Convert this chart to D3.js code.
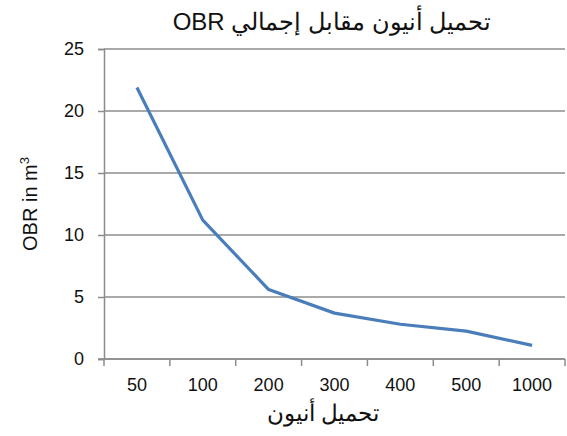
<!DOCTYPE html>
<html>
<head>
<meta charset="utf-8">
<script src="https://cdn.jsdelivr.net/npm/d3@7"></script>
<style>
  body { margin: 0; background: #fff; }
  text { font-family: "Liberation Sans", Arial, sans-serif; }
</style>
</head>
<body>
<div id="chart"></div>
<script>
const loads = ["50", "100", "200", "300", "400", "500", "1000"]
const obr = [21.9, 11.2, 5.6, 3.7, 2.8, 2.25, 1.1]
const yTicks = [0, 5, 10, 15, 20, 25]

const width = 567
const height = 436
const margin = {top: 49, right: 2, bottom: 77, left: 104}

const svg = d3.select('#chart')
  .append('svg')
  .attr('width', width)
  .attr('height', height)

const x = d3.scaleBand()
  .domain(loads)
  .range([margin.left, width - margin.right])

const y = d3.scaleLinear()
  .domain([0, 25])
  .range([height - margin.bottom, margin.top])

// gridlines
svg.append('g')
  .selectAll('line')
  .data(yTicks)
  .enter()
  .append('line')
  .attr('x1', margin.left)
  .attr('x2', width - margin.right)
  .attr('y1', d => y(d))
  .attr('y2', d => y(d))
  .style('stroke', '#8c8c8c')
  .style('stroke-width', 1.5)

// y axis
const yAxis = svg.append('g')
  .attr('transform', `translate(${margin.left},0)`)
  .call(d3.axisLeft(y).tickValues(yTicks).tickSize(6).tickPadding(14))
yAxis.select('.domain').style('stroke', '#8c8c8c').style('stroke-width', 1.5)
yAxis.selectAll('.tick line').style('stroke', '#8c8c8c').style('stroke-width', 1.5)
yAxis.selectAll('.tick text')
  .style('font-size', '18px')
  .style('fill', '#111')

// x axis: ticks on band edges
const xAxisG = svg.append('g')
  .attr('transform', `translate(0,${y(0)})`)
xAxisG.append('line')
  .attr('x1', margin.left - 6)
  .attr('x2', width - margin.right)
  .style('stroke', '#8c8c8c')
  .style('stroke-width', 1.5)
const edges = loads.map(d => x(d)).concat([x(loads[loads.length - 1]) + x.bandwidth()])
xAxisG.selectAll('.edge')
  .data(edges)
  .enter()
  .append('line')
  .attr('x1', d => d)
  .attr('x2', d => d)
  .attr('y1', 0)
  .attr('y2', 7)
  .style('stroke', '#8c8c8c')
  .style('stroke-width', 1.5)
xAxisG.selectAll('text')
  .data(loads)
  .enter()
  .append('text')
  .attr('x', d => x(d) + x.bandwidth() / 2)
  .attr('y', 32)
  .attr('text-anchor', 'middle')
  .style('font-size', '18px')
  .style('fill', '#111')
  .text(d => d)

// line
const line = d3.line()
  .x((d, i) => x(loads[i]) + x.bandwidth() / 2)
  .y(d => y(d))

svg.append('path')
  .datum(obr)
  .attr('d', line)
  .style('fill', 'none')
  .style('stroke', '#4a7ebb')
  .style('stroke-width', 3.2)
  .style('stroke-linejoin', 'round')

// title
svg.append('text')
  .attr('x', 332)
  .attr('y', 30)
  .attr('text-anchor', 'middle')
  .attr('direction', 'rtl')
  .style('font-size', '24px')
  .style('fill', '#111')
  .text('تحميل أنيون مقابل إجمالي OBR')

// x label
svg.append('text')
  .attr('x', 323)
  .attr('y', 421)
  .attr('text-anchor', 'middle')
  .attr('direction', 'rtl')
  .style('font-size', '23px')
  .style('fill', '#111')
  .text('تحميل أنيون')

// y label
const yLab = svg.append('text')
  .attr('transform', `translate(37,${(margin.top + y(0)) / 2}) rotate(-90)`)
  .attr('text-anchor', 'middle')
  .style('font-size', '20px')
  .style('fill', '#111')
yLab.append('tspan').text('OBR in m')
yLab.append('tspan').attr('dy', -8).style('font-size', '13px').text('3')
</script>
</body>
</html>
